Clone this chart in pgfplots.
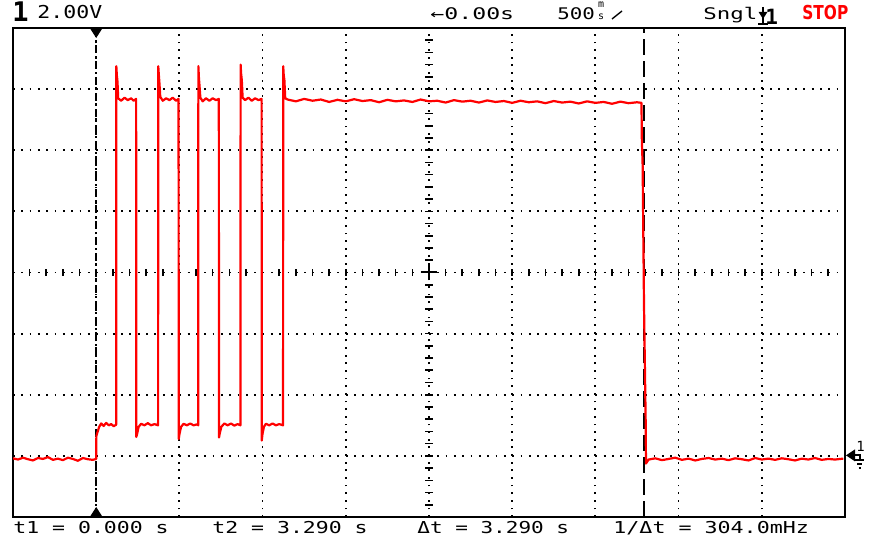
\documentclass[border=0pt]{standalone}
\usepackage{fontspec}
\usepackage{graphicx}
\usepackage{pgfplots}
\pgfplotsset{compat=1.18}
\newfontfamily\mono{DejaVu Sans Mono}
\newfontfamily\sans{DejaVu Sans}
\definecolor{scopered}{RGB}{255,0,0}

\pgfplotstableread{
t v
-0.5 -0.08
-0.47 -0.12
-0.44 -0.06
-0.41 -0.11
-0.38 -0.15
-0.35 -0.07
-0.32 -0.10
-0.29 -0.04
-0.26 -0.13
-0.23 -0.09
-0.20 -0.14
-0.17 -0.06
-0.14 -0.10
-0.11 -0.16
-0.08 -0.07
-0.05 -0.11
-0.02 -0.13
0.0 -0.10
0.001 0.65
0.008 0.78
0.018 0.95
0.03 1.06
0.045 0.98
0.06 1.08
0.075 1.00
0.09 1.04
0.105 0.97
0.12 1.02
0.121 12.75
0.124 12.45
0.128 12.25
0.132 11.70
0.15 11.62
0.17 11.72
0.19 11.64
0.21 11.70
0.225 11.62
0.24 11.68
0.241 0.62
0.246 0.72
0.255 0.95
0.27 1.05
0.29 1.00
0.31 1.07
0.33 1.00
0.35 1.04
0.372 1.00
0.373 12.75
0.376 12.50
0.38 12.20
0.385 11.75
0.40 11.62
0.42 11.70
0.44 11.64
0.46 11.72
0.48 11.62
0.495 11.68
0.496 0.55
0.50 0.70
0.51 0.95
0.525 1.05
0.545 1.00
0.565 1.06
0.585 1.00
0.605 1.03
0.613 1.00
0.614 12.75
0.617 12.40
0.621 12.10
0.626 11.72
0.64 11.60
0.66 11.70
0.68 11.62
0.70 11.70
0.72 11.64
0.737 11.68
0.738 0.60
0.742 0.72
0.752 0.95
0.77 1.06
0.79 1.00
0.81 1.06
0.83 0.99
0.85 1.04
0.867 1.00
0.868 12.80
0.871 12.50
0.875 12.30
0.88 11.72
0.895 11.64
0.915 11.72
0.935 11.62
0.955 11.70
0.975 11.64
0.994 11.68
0.995 0.50
0.999 0.70
1.008 0.95
1.02 1.05
1.04 1.00
1.06 1.06
1.08 1.00
1.10 1.04
1.123 1.00
1.124 12.75
1.127 12.45
1.131 12.30
1.136 11.70
1.15 11.66
1.20 11.60
1.25 11.68
1.30 11.62
1.35 11.66
1.40 11.58
1.45 11.65
1.50 11.60
1.55 11.67
1.60 11.61
1.65 11.64
1.70 11.57
1.75 11.65
1.80 11.60
1.85 11.63
1.90 11.58
1.95 11.66
2.00 11.60
2.05 11.62
2.10 11.56
2.15 11.64
2.20 11.59
2.25 11.62
2.30 11.56
2.35 11.63
2.40 11.58
2.45 11.61
2.50 11.55
2.55 11.62
2.60 11.57
2.65 11.60
2.70 11.54
2.75 11.61
2.80 11.56
2.85 11.59
2.90 11.53
2.95 11.60
3.00 11.55
3.05 11.58
3.10 11.52
3.15 11.59
3.20 11.54
3.25 11.57
3.277 11.55
3.279 10.40
3.284 9.50
3.292 5.00
3.302 1.20
3.304 -0.25
3.31 -0.20
3.32 -0.12
3.36 -0.08
3.40 -0.14
3.44 -0.10
3.48 -0.06
3.52 -0.13
3.56 -0.09
3.60 -0.15
3.64 -0.10
3.68 -0.07
3.72 -0.12
3.76 -0.09
3.80 -0.14
3.84 -0.08
3.88 -0.11
3.92 -0.15
3.96 -0.07
4.00 -0.12
4.04 -0.09
4.08 -0.13
4.12 -0.08
4.16 -0.11
4.20 -0.15
4.24 -0.09
4.28 -0.12
4.32 -0.07
4.36 -0.13
4.40 -0.10
4.44 -0.12
4.49 -0.09
}\trace

\begin{document}
\begin{tikzpicture}
\useasboundingbox (0,0) rectangle (439pt,278pt);
\fill[white] (0,0) rectangle (439pt,278pt);
\begin{axis}[
  at={(6.5pt,19.5pt)}, anchor=south west,
  scale only axis, width=416pt, height=244.5pt,
  xmin=-0.5, xmax=4.5, ymin=-2, ymax=14,
  xtick={0,0.5,1,1.5,2,2.5,3,3.5,4}, ytick={0,2,4,6,8,10,12},
  xticklabels={}, yticklabels={},
  major tick length=0pt,
  grid=major,
  x grid style={black, line width=0.9pt, dash pattern=on 0.9pt off 2.92pt},
  y grid style={black, line width=0.9pt, dash pattern=on 0.9pt off 3.26pt},
  axis line style={line width=1.15pt},
  clip=false,
]
% centre graticule ticks
\pgfplotsinvokeforeach{-0.4,-0.3,...,4.41}{\draw[line width=0.8pt] (axis cs:#1,5.89) -- (axis cs:#1,6.11);}
\pgfplotsinvokeforeach{-1.6,-1.2,...,13.7}{\draw[line width=0.8pt] (axis cs:1.976,#1) -- (axis cs:2.024,#1);}
\draw[line width=1pt] (axis cs:1.95,6) -- (axis cs:2.05,6);
\draw[line width=1pt] (axis cs:2,5.75) -- (axis cs:2,6.25);
% cursors
\draw[line width=1pt, dash pattern=on 4pt off 1.5pt on 1pt off 1.5pt] (axis cs:0,-2) -- (axis cs:0,14);
\draw[line width=1pt, dash pattern=on 8pt off 3pt] (axis cs:3.29,-2) -- (axis cs:3.29,14);
\addplot[scopered, line width=1.1pt, line join=round] table[x=t, y=v] {\trace};
\end{axis}
% trigger / t1 markers on the frame
\fill (44.9pt,264pt) -- (51.3pt,264pt) -- (48.1pt,259pt) -- cycle;
\fill (44.9pt,19.5pt) -- (51.3pt,19.5pt) -- (48.1pt,24.5pt) -- cycle;
% ground marker
\fill (423pt,50.3pt) -- (427.5pt,53.3pt) -- (427.5pt,47.3pt) -- cycle;
\draw[line width=0.9pt] (427pt,50.3pt) -- (430.5pt,50.3pt);
\draw[line width=0.8pt] (430pt,50.3pt) -- (430pt,48pt);
\draw[line width=0.9pt] (427.5pt,48pt) -- (432pt,48pt);
\draw[line width=0.9pt] (428.5pt,46pt) -- (431.2pt,46pt);
\draw[line width=0.9pt] (429.3pt,44pt) -- (430.5pt,44pt);
\node[anchor=base west, inner sep=0] at (428pt,52pt) {\mono\fontsize{7}{8}\selectfont 1};
% top status line
\node[anchor=base west, inner sep=0] at (6pt,267pt) {\mono\bfseries\fontsize{13.5}{14}\selectfont 1};
\node[anchor=base west, inner sep=0] at (18.5pt,268.75pt) {\scalebox{1.21}[1]{\mono\fontsize{8.9}{10}\selectfont 2.00V}};
\node[anchor=base west, inner sep=0] at (215pt,268pt) {\scalebox{1.45}[1]{\mono\fontsize{8}{9}\selectfont ←0.00s}};
\node[anchor=base west, inner sep=0] at (278.5pt,268pt) {\scalebox{1.3}[1]{\mono\fontsize{8}{9}\selectfont 500}};
\node[anchor=south west, inner sep=0] at (298.8pt,268pt) {\mono\fontsize{5}{4.2}\selectfont\shortstack{m\\s}};
\draw[line width=0.7pt] (306pt,268.5pt) -- (311pt,272.5pt);
\node[anchor=base west, inner sep=0] at (351.5pt,268pt) {\scalebox{1.4}[1]{\mono\fontsize{8}{9}\selectfont Sngl}};
\draw[line width=0.8pt] (381.5pt,274.5pt) -- (381.5pt,266pt);
\fill (379.3pt,272pt) -- (383.7pt,272pt) -- (381.5pt,268.5pt) -- cycle;
\draw[line width=1pt] (379pt,266pt) -- (384pt,266pt);
\node[anchor=base west, inner sep=0] at (382.5pt,265.8pt) {\mono\bfseries\fontsize{10.5}{11}\selectfont 1};
\node[anchor=base west, inner sep=0, text=scopered] at (401pt,268pt) {\scalebox{0.8}[1]{\sans\bfseries\fontsize{9.6}{10}\selectfont STOP}};
% bottom measurement line
\node[anchor=base west, inner sep=0] at (6.5pt,11pt) {\scalebox{1.31}[1]{\mono\fontsize{8.2}{9}\selectfont t1 = 0.000 s}};
\node[anchor=base west, inner sep=0] at (106pt,11pt) {\scalebox{1.31}[1]{\mono\fontsize{8.2}{9}\selectfont t2 = 3.290 s}};
\node[anchor=base west, inner sep=0] at (208.5pt,11pt) {\scalebox{1.28}[1]{\mono\fontsize{8.2}{9}\selectfont Δt = 3.290 s}};
\node[anchor=base west, inner sep=0] at (306.5pt,11pt) {\scalebox{1.32}[1]{\mono\fontsize{8.2}{9}\selectfont 1/Δt = 304.0mHz}};
\end{tikzpicture}
\end{document}
